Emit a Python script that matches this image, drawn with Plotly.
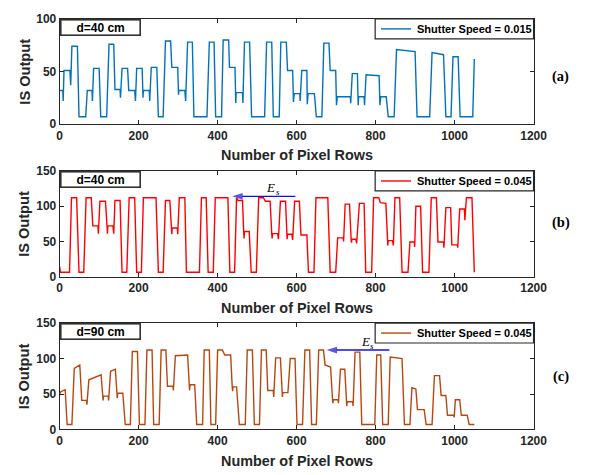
import plotly.graph_objects as go

# ---- data: image-sensor output along the pixel rows (x = row index, y = IS output) ----
rows_a = [0, 8, 9, 11, 26, 28, 31, 45, 49, 66, 70, 82, 83, 86, 100, 104, 119, 125, 137, 140,
          153, 154, 158, 172, 175, 190, 192, 195, 209, 211, 212, 227, 228, 232, 246, 250, 262,
          268, 281, 284, 299, 301, 302, 317, 319, 324, 336, 340, 373, 379, 391, 395, 410, 414,
          428, 430, 444, 446, 447, 463, 464, 468, 481, 486, 519, 524, 537, 541, 556, 560, 574,
          577, 590, 592, 594, 608, 609, 613, 626, 627, 629, 645, 650, 664, 669, 682, 685, 699,
          701, 703, 736, 737, 741, 754, 756, 757, 771, 772, 776, 809, 811, 813, 827, 832, 847,
          853, 900, 905, 937, 943, 972, 978, 991, 996, 1009, 1014, 1046, 1050]
out_a = [32, 32, 22, 51, 51, 37, 74, 74, 7, 7, 32, 32, 22, 53, 53, 7, 7, 76, 76, 33,
         33, 25, 53, 53, 32, 32, 22, 53, 53, 25, 32, 32, 22, 54, 54, 7, 7,
         79, 79, 54, 54, 28, 32, 32, 22, 78, 78, 7, 7, 78, 78, 7, 7, 80,
         80, 54, 54, 20, 30, 30, 20, 78, 78, 7, 7, 78, 78, 7, 7, 78, 78,
         51, 51, 21, 29, 29, 22, 51, 51, 19, 29, 29, 7, 7, 77, 77, 51, 51,
         18, 26, 26, 20, 48, 48, 18, 26, 26, 18, 47, 46, 18, 26, 26, 7, 7,
         71, 69, 7, 7, 68, 66, 7, 7, 64, 64, 7, 7, 62]

rows_b = [0, 2, 25, 30, 43, 49, 61, 67, 80, 84, 97, 98, 102, 116, 120, 121, 122, 135, 137, 140,
          153, 158, 170, 176, 190, 195, 207, 212, 244, 250, 262, 268, 279, 283, 284, 285, 298,
          299, 303, 317, 321, 354, 359, 371, 376, 389, 394, 426, 431, 443, 448, 452, 463, 466,
          467, 468, 480, 485, 498, 504, 516, 521, 533, 537, 538, 539, 552, 554, 559, 572, 575,
          576, 577, 588, 590, 595, 607, 611, 626, 630, 644, 649, 679, 685, 699, 704, 718, 719,
          723, 734, 738, 739, 740, 750, 752, 759, 771, 775, 790, 795, 808, 812, 826, 830, 831,
          832, 843, 845, 849, 861, 867, 882, 887, 898, 899, 902, 914, 919, 935, 941, 954, 958,
          972, 973, 978, 990, 993, 1007, 1008, 1013, 1025, 1026, 1030, 1044, 1050]
out_b = [14, 6, 6, 112, 112, 6, 6, 112, 112, 72, 72, 61, 107, 107, 72, 61, 72, 72, 61, 108,
         108, 6, 6, 112, 112, 6, 6, 112, 112, 6, 6, 108, 108, 69, 60, 69, 69,
         60, 112, 112, 6, 6, 112, 112, 6, 6, 112, 112, 6, 6, 112, 108, 108, 64,
         54, 64, 64, 6, 6, 112, 112, 107, 107, 61, 54, 61, 61, 53, 107, 107, 60,
         53, 60, 60, 52, 107, 107, 59, 59, 6, 6, 112, 112, 6, 6, 55, 55, 50,
         103, 103, 53, 48, 53, 53, 47, 104, 104, 6, 6, 112, 112, 105, 104, 51, 44,
         51, 51, 44, 112, 112, 6, 6, 49, 49, 42, 100, 100, 6, 6, 112, 112, 49,
         49, 41, 98, 98, 45, 45, 41, 96, 96, 80, 112, 112, 6]

rows_c = [0, 2, 10, 14, 19, 31, 37, 51, 56, 68, 69, 74, 105, 109, 110, 111, 123, 124, 129, 141,
          145, 146, 147, 160, 166, 179, 184, 197, 202, 216, 221, 234, 238, 252, 257, 269, 273,
          287, 288, 293, 324, 328, 329, 330, 342, 347, 362, 366, 379, 383, 395, 400, 412, 418,
          433, 437, 438, 439, 448, 455, 470, 475, 488, 493, 506, 511, 523, 527, 541, 542, 547,
          559, 563, 564, 565, 578, 584, 596, 601, 615, 621, 633, 638, 650, 656, 668, 672, 686,
          691, 692, 693, 705, 706, 711, 722, 726, 727, 728, 742, 743, 748, 760, 765, 798, 803,
          813, 818, 832, 837, 867, 873, 887, 892, 902, 906, 923, 928, 943, 949, 962, 966, 978,
          982, 998, 999, 1002, 1013, 1017, 1032, 1037, 1050]
out_c = [48, 53, 55, 56, 7, 7, 86, 91, 41, 41, 35, 70, 77, 47, 41, 47, 47, 41, 82, 85,
         51, 44, 51, 51, 7, 7, 110, 110, 7, 7, 112, 112, 7, 7, 112, 112, 61,
         61, 55, 104, 105, 63, 55, 63, 63, 7, 7, 112, 112, 7, 7, 112, 112, 105,
         105, 60, 54, 60, 60, 7, 7, 112, 112, 7, 7, 112, 112, 55, 55, 46, 101,
         101, 52, 46, 52, 52, 100, 100, 7, 7, 112, 112, 7, 7, 112, 112, 91, 88,
         42, 37, 42, 42, 37, 85, 85, 39, 33, 39, 39, 33, 109, 109, 7, 7, 105,
         105, 7, 7, 102, 100, 7, 7, 59, 57, 28, 28, 7, 7, 76, 76, 48, 48,
         20, 20, 17, 42, 42, 20, 20, 7, 7]

panel_tags = ["(a)", "(b)", "(c)"]
distances = ["d=40 cm", "d=40 cm", "d=90 cm"]
series_names = ["Shutter Speed = 0.015", "Shutter Speed = 0.045", "Shutter Speed = 0.045"]
y_ticks = [[0, 50, 100], [0, 50, 100, 150], [0, 50, 100, 150]]
x_ticks = [0, 200, 400, 600, 800, 1000, 1200]
x_title = "Number of Pixel Rows"
y_title = "IS Output"

# E_s direction arrows: (panel index, tail row, head row, level, label row, label level)
es_arrows = [(1, 597, 437, 114, 540, 126), (2, 835, 676, 112, 779, 124)]

# ---- layout geometry ----
W, H = 601, 475
def fx(p):
    return p / W
def fy(p):
    return 1 - p / H

PLOT_L, PLOT_R = 58.3, 546.0
panel_px = [(12.3, 120.7), (169.0, 277.7), (325.7, 435.3)]  # top, bottom in pixels
colors = ["#0072BD", "#FF0000", "#B8470F"]
AX = "#262626"
SANS = "Liberation Sans, Arial, sans-serif"
SERIF = "Liberation Serif, Times New Roman, serif"

data = [(rows_a, out_a), (rows_b, out_b), (rows_c, out_c)]

fig = go.Figure()
annotations = []
shapes = []
for i, ((xs, ys), (top, bot)) in enumerate(zip(data, panel_px)):
    n = "" if i == 0 else str(i + 1)
    fig.add_trace(go.Scatter(
        x=xs, y=ys, mode="lines", name=series_names[i],
        line=dict(color=colors[i], width=1.4),
        xaxis="x" + n, yaxis="y" + n, showlegend=False,
    ))
    axis_common = dict(
        showline=True, linecolor=AX, linewidth=1, mirror="ticks",
        ticks="inside", ticklen=4, tickwidth=1, tickcolor=AX,
        showgrid=False, zeroline=False,
        tickfont=dict(family=SANS, size=12, color=AX, weight="bold"),
    )
    fig.layout["xaxis" + n] = dict(
        axis_common, domain=[fx(PLOT_L), fx(PLOT_R)], range=[0, 1200],
        tickvals=x_ticks, anchor="y" + n,
    )
    fig.layout["yaxis" + n] = dict(
        axis_common, domain=[fy(bot), fy(top)],
        range=[0, y_ticks[i][-1]], tickvals=y_ticks[i], anchor="x" + n,
    )
    # legend box with line sample and series name
    lg_l, lg_r, lg_t, lg_b = 383, PLOT_R, top, top + 20.5
    mid = (lg_t + lg_b) / 2
    shapes.append(dict(type="rect", xref="paper", yref="paper",
                       x0=fx(lg_l), x1=fx(lg_r), y0=fy(lg_b), y1=fy(lg_t),
                       line=dict(color=AX, width=1.2), fillcolor="white", layer="above"))
    shapes.append(dict(type="line", xref="paper", yref="paper",
                       x0=fx(389), x1=fx(420), y0=fy(mid), y1=fy(mid),
                       line=dict(color=colors[i], width=1.4), layer="above"))
    annotations.append(dict(
        text=series_names[i], xref="paper", yref="paper",
        x=fx(424.5), y=fy(mid), xanchor="left", yanchor="middle",
        showarrow=False, font=dict(family=SANS, size=11, color="black", weight="bold"),
    ))
    # axis titles
    annotations.append(dict(
        text=x_title, xref="paper", yref="paper",
        x=fx((PLOT_L + PLOT_R) / 2), y=fy(bot + 32), xanchor="center", yanchor="middle",
        showarrow=False, font=dict(family=SANS, size=14.4, color=AX, weight="bold"),
    ))
    annotations.append(dict(
        text=y_title, xref="paper", yref="paper", textangle=-90,
        x=fx(21.7), y=fy((top + bot) / 2), xanchor="center", yanchor="middle",
        showarrow=False, font=dict(family=SANS, size=14.6, color=AX, weight="bold"),
    ))
    # distance box in the upper-left corner
    annotations.append(dict(
        text=distances[i], xref="paper", yref="paper",
        x=fx(PLOT_L + 0.5), y=fy(top), xanchor="left", yanchor="top",
        showarrow=False, width=76, height=12, borderpad=1,
        bordercolor="#333333", borderwidth=1.6, bgcolor="white",
        font=dict(family=SANS, size=12, color="black", weight="bold"),
    ))
    # panel tag on the right
    tag_y = [72, 222, 381][i]
    annotations.append(dict(
        text=panel_tags[i], xref="paper", yref="paper",
        x=fx(574), y=fy(tag_y), xanchor="center", yanchor="middle",
        showarrow=False, font=dict(family=SERIF, size=14.5, color="black", weight="bold"),
    ))

# arrows marking the E_s direction
for idx, tail, head, level, lx, ly in es_arrows:
    n = str(idx + 1)
    fig.add_trace(go.Scatter(
        x=[tail, head], y=[level, level], mode="lines+markers",
        line=dict(color="#1010E6", width=1.4),
        marker=dict(symbol="arrow", angleref="previous", size=[0, 11], color="#1010E6",
                    line=dict(width=0)),
        xaxis="x" + n, yaxis="y" + n, showlegend=False, hoverinfo="skip",
    ))
    # E with a subscript s, written as two italic serif labels
    annotations.append(dict(
        x=lx, y=ly, xref="x" + n, yref="y" + n, xshift=-2,
        text="<i>E</i>", showarrow=False,
        font=dict(family=SERIF, size=13, color="black"),
    ))
    annotations.append(dict(
        x=lx, y=ly, xref="x" + n, yref="y" + n, xshift=5, yshift=-4,
        text="<i>s</i>", showarrow=False,
        font=dict(family=SERIF, size=9, color="black"),
    ))

fig.update_layout(
    width=W, height=H, margin=dict(l=0, r=0, t=0, b=0),
    paper_bgcolor="white", plot_bgcolor="white",
    annotations=annotations, shapes=shapes, showlegend=False,
)

fig.write_html("out.html")
